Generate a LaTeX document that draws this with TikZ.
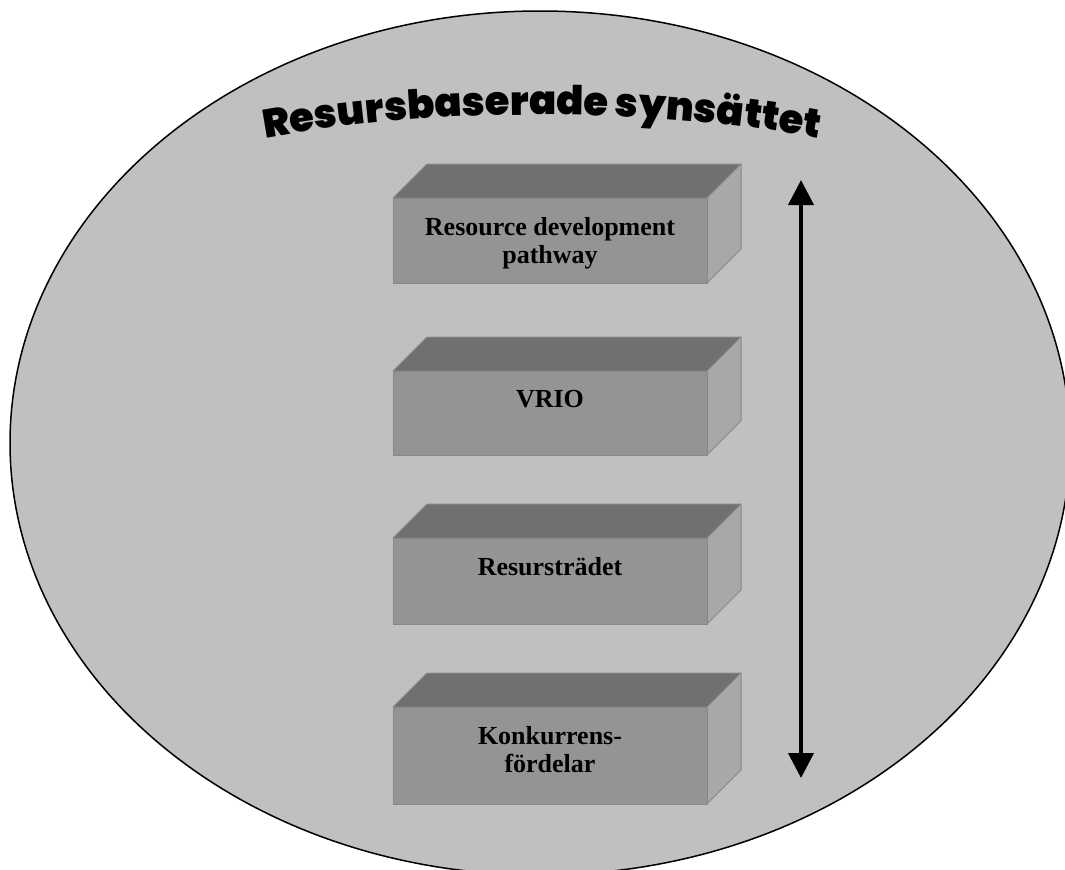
\documentclass[tikz,border=0pt]{standalone}
\usepackage{fontspec}
\setmainfont{Liberation Serif}
\IfFontExistsTF{Poppins Black}{\newfontfamily\titlefont{Poppins Black}}{\newfontfamily\titlefont{DejaVu Sans Bold}}
\usetikzlibrary{arrows.meta,decorations.text}
\definecolor{ovalgray}{RGB}{192,192,192}
\definecolor{frontgray}{RGB}{148,148,148}
\definecolor{topgray}{RGB}{112,112,112}
\definecolor{sidegray}{RGB}{168,168,168}
\definecolor{edgegray}{RGB}{136,136,136}
\begin{document}
\begin{tikzpicture}[x=0.5pt,y=-0.5pt,line join=round,
	boxtext/.style={anchor=north,inner sep=0pt,align=center,font=\fontsize{13}{14}\selectfont\bfseries},
	face/.style={draw=edgegray,line width=0.5pt}]
	\useasboundingbox (0,0) rectangle (1065,869);
	\clip (0,0) rectangle (1065,869);
	\draw[fill=ovalgray,line width=0.75pt] (540,443) ellipse [x radius=530,y radius=432];
	% arched title
	\path[decorate,decoration={text along path,text align=center,
		text={|\titlefont\fontsize{20}{20}\selectfont|Resursbaserade synsättet}}]
		(250,141) .. controls (430,106) and (654,106) .. (834,141);
	% the four blocks
	\foreach \ya/\yb/\name/\txt in {198/283/pathway/{Resource development\\pathway},371/455/vrio/VRIO,538/624/tradet/Resursträdet,707/804/fordelar/{Konkurrens-\\fördelar}}{
		\fill[face,fill=topgray] (393,\ya)--(427,\ya-34)--(741,\ya-34)--(707,\ya)--cycle;
		\fill[face,fill=sidegray] (707,\ya)--(741,\ya-34)--(741,\yb-34)--(707,\yb)--cycle;
		\fill[face,fill=frontgray] (393,\ya) rectangle (707,\yb);
		\node[boxtext] (\name) at (550,\ya+19) {\txt};
	}
	% double arrow
	\coordinate (pil-top) at (801,180);
	\coordinate (pil-bot) at (801,778);
	\draw[{Triangle[length=12.5pt,width=12.5pt]}-{Triangle[length=12.5pt,width=12.5pt]},line width=2pt] (pil-top)--(pil-bot);
\end{tikzpicture}
\end{document}
